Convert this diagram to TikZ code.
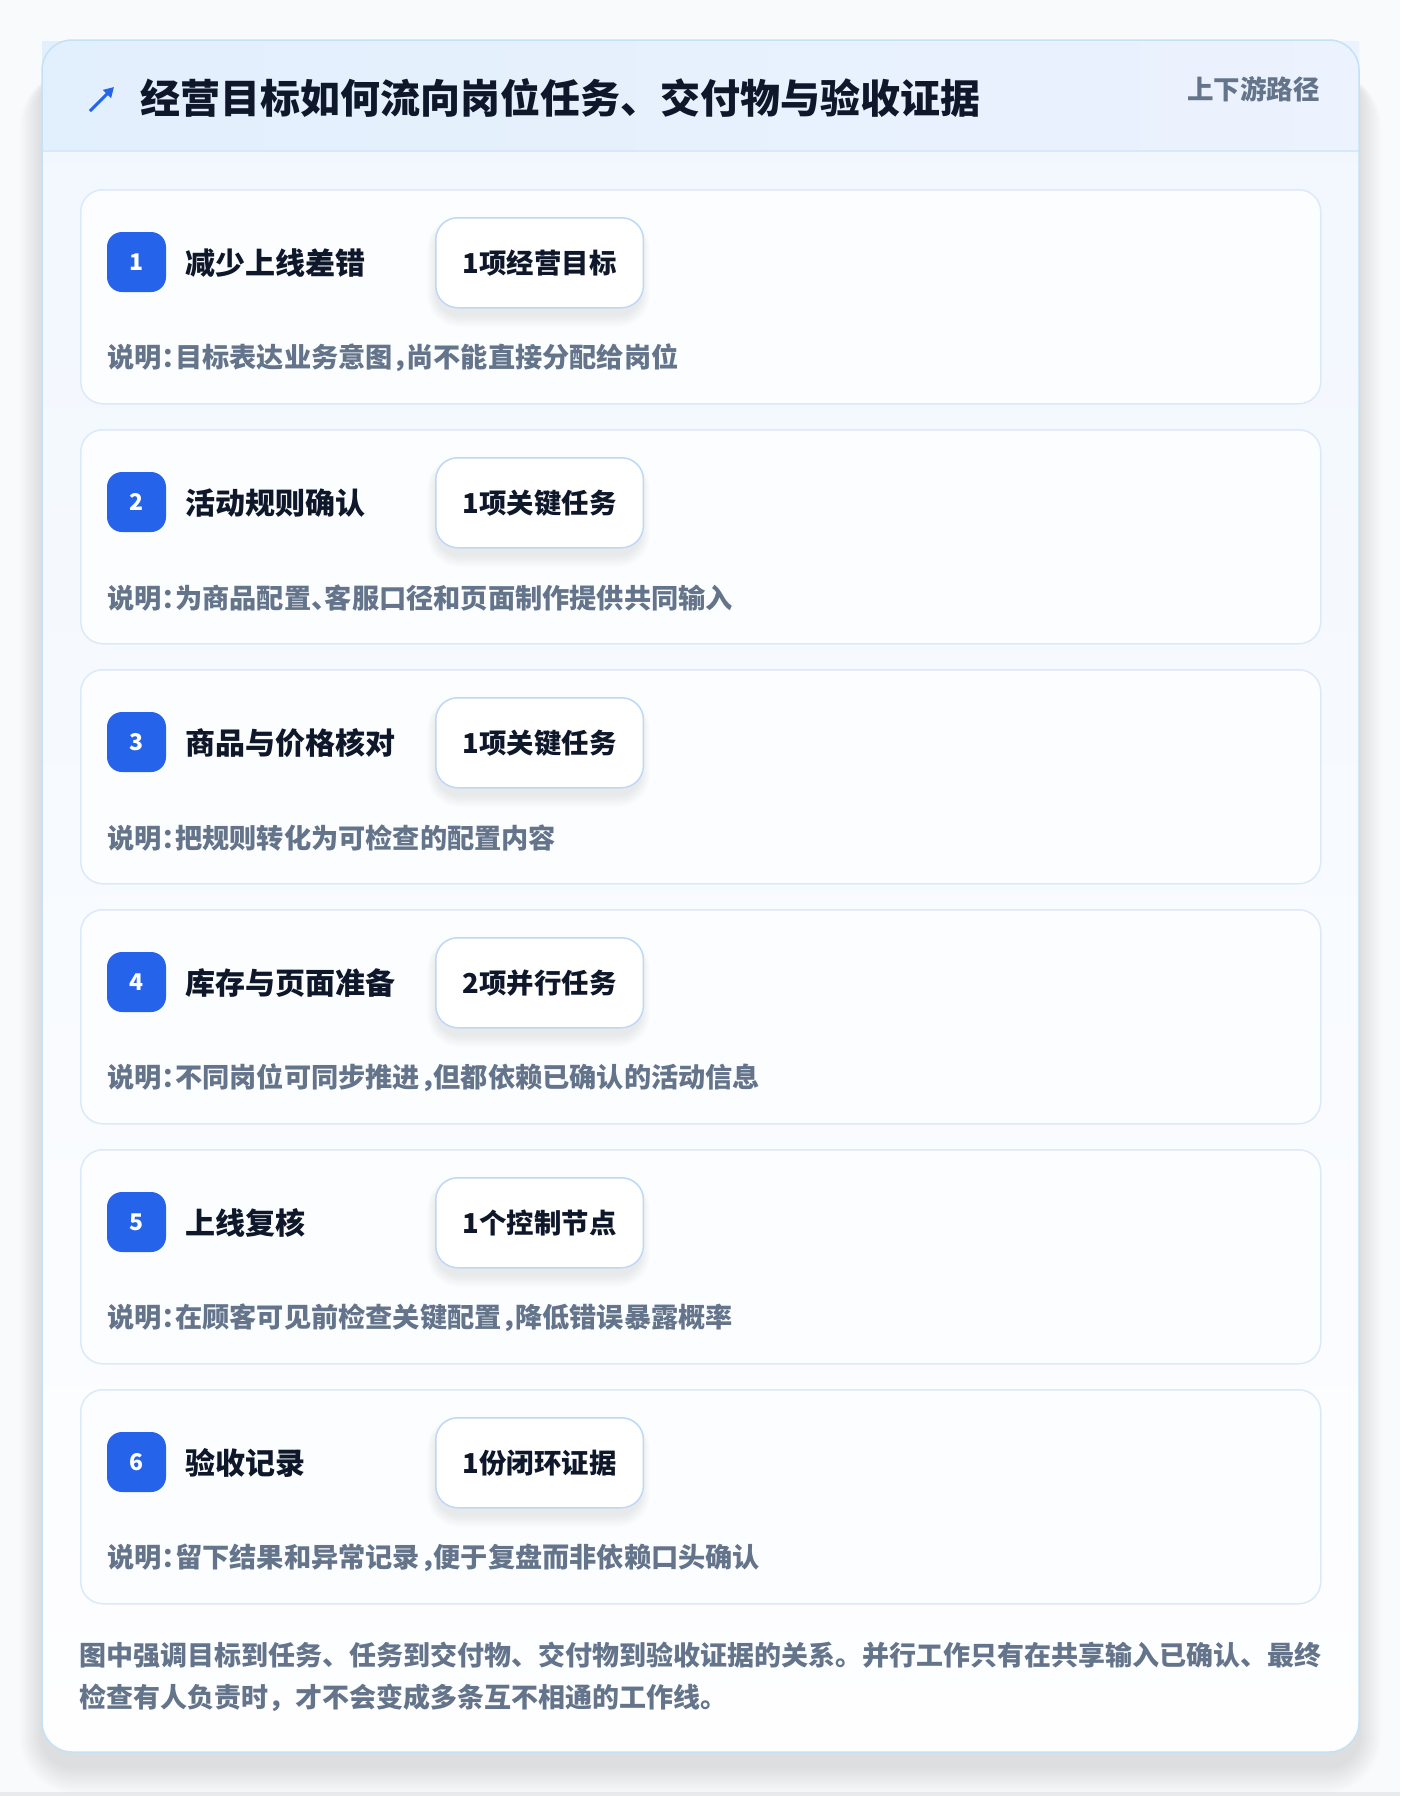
\documentclass[tikz,border=0pt]{standalone}
\usepackage{fontspec}
\setmainfont{Noto Sans CJK SC}
\usetikzlibrary{arrows.meta}
\definecolor{pagebg}{HTML}{F9FAFB}
\definecolor{outerline}{HTML}{C3E2F7}
\definecolor{bodytop}{HTML}{F1F7FE}
\definecolor{bodybot}{HTML}{FEFEFF}
\definecolor{headl}{HTML}{E2EFFD}
\definecolor{headr}{HTML}{ECF2FE}
\definecolor{headline}{HTML}{D8E8FA}
\definecolor{cardline}{HTML}{DCEAF8}
\definecolor{cardfill}{HTML}{FCFDFF}
\definecolor{pillline}{HTML}{BFD8F4}
\definecolor{badgeblue}{HTML}{2563EB}
\definecolor{titleink}{HTML}{0F172A}
\definecolor{slate}{HTML}{64748B}
\definecolor{shadowc}{HTML}{1E293B}
\definecolor{bottomband}{HTML}{E9EAEE}
\newcommand\halfp[1]{\makebox[0.5em][l]{#1}}
\tikzset{
  cardbox/.style={draw=cardline, line width=1.5pt, fill=cardfill, rounded corners=22pt,
    minimum width=1240pt, minimum height=214pt, inner sep=0pt, anchor=north west},
  badge/.style={fill=badgeblue, rounded corners=15pt, minimum width=59pt, minimum height=60pt,
    inner sep=0pt, text=white, font=\bfseries\fontsize{23}{23}\selectfont},
  ctitle/.style={anchor=west, inner sep=0pt, text=titleink, font=\bfseries\fontsize{30}{30}\selectfont},
  pill/.style={draw=pillline, line width=1.5pt, fill=white, rounded corners=22pt,
    minimum height=90pt, inner xsep=27pt, inner ysep=0pt, anchor=north west,
    text=titleink, font=\bfseries\fontsize{27.4}{28}\selectfont},
  desc/.style={anchor=west, inner sep=0pt, text=slate, font=\bfseries\fontsize{27.2}{27}\selectfont},
  foot/.style={anchor=west, inner sep=0pt, text=slate, font=\bfseries\fontsize{27}{27}\selectfont},
}
\begin{document}
\begin{tikzpicture}[x=1pt,y=-1pt]
\useasboundingbox (0,0) rectangle (1400,1796);
\fill[pagebg] (0,0) rectangle (1400,1796);
\fill[bottomband] (0,1792) rectangle (1400,1796);
% outer card shadow
\foreach \k in {1,...,14}{
  \fill[shadowc, opacity=0.006, rounded corners=30+2*\k]
    (42-1.6*\k,70) rectangle (1359+1.6*\k,1766+2*\k);
}
% outer card body
\shade[top color=bodytop, bottom color=bodybot, rounded corners=30pt] (42,40) rectangle (1359,1752);
% header band
\shade[left color=headl, right color=headr] (42,41) rectangle (1359,151);
\draw[headline, line width=1.5pt] (42,151) -- (1359,151);
\draw[outerline, line width=1.5pt, rounded corners=30pt] (42,40) rectangle (1359,1752);
% header content
\coordinate (arrA) at (90,111);
\coordinate (arrB) at (114,87);
\draw[badgeblue, line width=3pt, -{Triangle[length=10pt,width=11pt]}] (arrA) -- (arrB);
\node[anchor=west, inner sep=0pt, text=titleink, font=\bfseries\fontsize{40}{40}\selectfont] (title) at (140,98.5)
  {经营目标如何流向岗位任务、交付物与验收证据};
\node[anchor=east, inner sep=0pt, text=slate, font=\bfseries\fontsize{26.5}{26.5}\selectfont] (tag) at (1320,89)
  {上下游路径};
% cards
\foreach \i/\t/\p/\d in {
  1/减少上线差错/1项经营目标/说明\halfp{：}目标表达业务意图\halfp{，}尚不能直接分配给岗位,
  2/活动规则确认/1项关键任务/说明\halfp{：}为商品配置\halfp{、}客服口径和页面制作提供共同输入,
  3/商品与价格核对/1项关键任务/说明\halfp{：}把规则转化为可检查的配置内容,
  4/库存与页面准备/2项并行任务/说明\halfp{：}不同岗位可同步推进\halfp{，}但都依赖已确认的活动信息,
  5/上线复核/1个控制节点/说明\halfp{：}在顾客可见前检查关键配置\halfp{，}降低错误暴露概率,
  6/验收记录/1份闭环证据/说明\halfp{：}留下结果和异常记录\halfp{，}便于复盘而非依赖口头确认}{
  \pgfmathsetmacro{\ctop}{189+240*(\i-1)}
  \node[cardbox] (card\i) at (80,\ctop) {};
  \foreach \k in {1,...,10}{
    \fill[shadowc, opacity=0.006, rounded corners=22+\k]
      (437-\k,\ctop+34-0.6*\k) rectangle (640+\k,\ctop+126+1.2*\k);
  }
  \node[badge] (b\i) at (136.5,\ctop+73) {\i};
  \node[ctitle] (t\i) at (185,\ctop+74) {\t};
  \node[pill] (p\i) at (435,\ctop+28) {\p};
  \node[desc] (d\i) at (107,\ctop+169) {\d};
}
% footer
\node[foot] (f1) at (79,1655) {图中强调目标到任务、任务到交付物、交付物到验收证据的关系。并行工作只有在共享输入已确认、最终};
\node[foot] (f2) at (79,1698) {检查有人负责时，才不会变成多条互不相通的工作线。};
\end{tikzpicture}
\end{document}
